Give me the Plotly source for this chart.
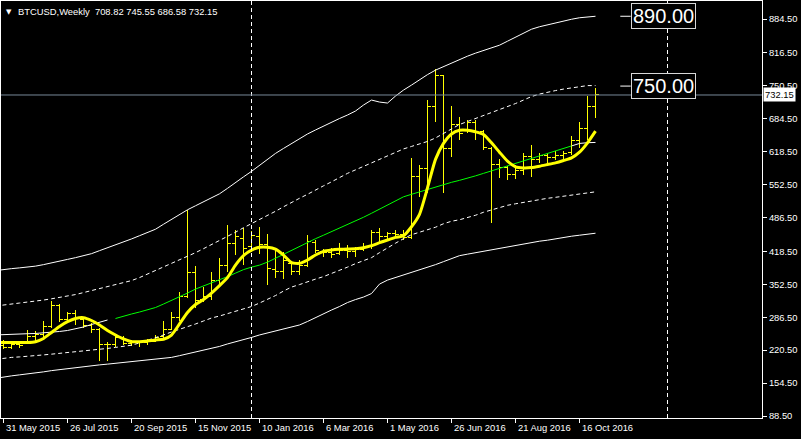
import pandas as pd
import plotly.graph_objects as go

# ---------------- data ----------------
# weekly bar dates: first entry (24 May 2015) is the bar just left of the view
weeks = pd.date_range("2015-05-24", "2016-10-30", freq="7D")

bar_open = [230, 226, 232, 237, 248, 251, 268, 311, 283, 294, 283, 270, 262, 231, 231,
            245, 234, 238, 235, 238, 247, 262, 286, 328, 376, 322, 328, 360, 391, 435,
            445, 428, 448, 432, 382, 378, 395, 378, 391, 436, 418, 417, 414, 421, 418,
            422, 429, 456, 448, 455, 452, 446, 568, 584, 709, 772, 625, 672, 660, 676,
            658, 625, 592, 586, 572, 580, 608, 602, 610, 606, 610, 616, 640, 665, 708.82]
bar_high = [240, 239, 236, 261, 258, 278, 319, 314, 298, 301, 285, 275, 264, 236, 251,
            248, 241, 239, 242, 251, 278, 298, 338, 502, 390, 348, 378, 405, 471, 461,
            465, 460, 468, 453, 423, 418, 398, 401, 451, 441, 423, 425, 435, 431, 428,
            435, 461, 465, 458, 462, 461, 605, 592, 722, 784, 772, 710, 688, 682, 683,
            662, 628, 603, 590, 592, 615, 632, 615, 615, 619, 619, 650, 677, 730, 745.55]
bar_low = [222, 223, 224, 236, 236, 244, 264, 277, 276, 271, 264, 254, 199, 199, 226,
           231, 228, 226, 231, 237, 241, 261, 279, 326, 305, 317, 322, 352, 378, 411,
           391, 418, 414, 352, 365, 364, 371, 371, 388, 415, 408, 405, 411, 405, 408,
           420, 424, 435, 441, 448, 441, 444, 528, 535, 679, 535, 608, 642, 656, 642,
           622, 475, 565, 562, 563, 571, 568, 596, 596, 602, 604, 611, 625, 642, 686.58]
bar_close = [226, 232, 229, 248, 251, 268, 310, 283, 294, 284, 270, 262, 231, 231, 246,
             234, 238, 235, 238, 246, 262, 286, 328, 376, 321, 328, 360, 391, 435, 448,
             425, 450, 432, 385, 378, 401, 378, 391, 438, 420, 417, 413, 421, 418, 422,
             428, 456, 448, 455, 452, 446, 568, 584, 709, 772, 625, 672, 655, 676, 656,
             626, 592, 587, 572, 580, 608, 602, 610, 606, 610, 615, 640, 665, 709, 732.15]

# smoothed yellow line (one value per week, starting 24 May 2015)
smooth_line = [235.5, 236, 236, 236, 236, 237.5, 244, 256, 268, 277.6, 284, 285.6, 280,
               271, 260, 251, 243, 237.5, 237.5, 238.9, 240.9, 242.3, 250.9, 273, 296,
               312, 322, 335, 350, 366, 391, 410, 421, 427, 427, 423, 411, 396, 394.6,
               401.3, 411.3, 418.6, 421.3, 422.6, 423.4, 424, 426, 430, 436, 441.4, 446.7,
               450, 468, 493, 546, 603, 635, 654, 661.6, 661.6, 658.3, 652.9, 636.2, 617.5,
               599.4, 588.1, 586, 586.7, 589.4, 592.7, 596.1, 600.8, 606.1, 617.5, 636.2,
               659.6]

# green moving average (weeks 6 Sep 2015 .. 11 Sep 2016)
green_ma = [284, 289, 293, 297, 301, 306, 313, 320, 327, 335, 343, 349, 355, 361, 368,
            375, 382, 387, 391, 397, 405, 413, 421, 429, 437, 444, 451, 458, 465, 472,
            479, 487, 495, 503, 511, 519, 528, 533, 538, 543, 548, 553, 557, 561, 565,
            570, 575, 580, 585, 590, 595, 600, 605, 610, 615, 620, 625, 630]

# white centre line, visible only where the green line is absent
mid_head = [251, 252, 252.5, 253, 253.5, 254, 255, 256.5, 258, 260, 263, 267, 272, 277, 281]
mid_tail = [630, 635, 636.5, 637]

upper_outer = [380, 382.5, 384, 385.5, 387, 389, 392, 395, 399, 402.5, 406, 409.5, 414,
               420, 425.5, 431, 437, 443.5, 450, 456, 463, 473, 483, 492, 502, 510, 518,
               526, 534, 545, 557, 568, 579, 591, 603, 615, 625, 635, 645, 654, 662, 670,
               677, 685, 692, 700, 712, 722, 718, 716, 730, 742, 752, 763, 773, 782, 789,
               797, 804, 810, 816, 821, 827, 832, 840, 848, 857, 864, 869, 873, 877, 881,
               884, 887, 889, 890]
upper_inner = [309, 311.5, 313, 315, 317, 318.5, 321, 323.5, 326, 328, 332, 336, 340,
               344.5, 348, 352, 356, 360, 366, 373, 380, 388, 395, 402, 409, 416, 424,
               432, 441, 449, 457, 466, 474, 482, 491, 499, 508, 517, 525, 533, 542, 550,
               558, 567, 575, 582, 589, 596, 603, 610, 617, 624, 629, 634, 639, 646, 655,
               664, 673, 679, 685, 690, 696, 702, 708, 715, 722, 729, 734, 738, 741, 744,
               746, 749, 751, 751]
lower_inner = [202, 204.5, 206, 207, 208, 209.5, 211, 212.5, 214, 215, 217, 218.5, 220,
               222, 224, 226, 228, 230.5, 235, 240, 246, 251, 257, 262, 268, 273, 279,
               285, 289, 294, 299, 303, 308, 315, 322, 330, 339, 347, 352, 358, 363, 368,
               374, 380, 387, 394, 400, 406, 416, 426, 435, 444, 452, 457, 462, 467, 474,
               479, 482, 486, 491, 497, 502, 507, 511, 514, 517, 520, 522, 525, 527, 529,
               532, 534, 536, 538]
lower_outer = [164, 167, 169, 171, 172.5, 174.5, 177, 179.5, 181.5, 184, 186, 187.5, 189,
               191, 192.5, 194, 196, 198, 199.5, 201, 202.5, 204, 206, 209.5, 213, 217,
               220.5, 224, 228, 233, 237, 241.5, 246, 251, 255, 260, 263.5, 267, 271, 278,
               286, 293, 301, 308, 316, 322, 327, 334, 353, 361, 366, 371, 376, 381, 387,
               392, 398, 404, 410, 413, 416, 419, 422, 425, 428, 430, 433, 436, 439, 441,
               444, 447, 449, 451, 453, 455]

y_tick_values = [88.5, 154.5, 220.5, 286.5, 352.5, 418.5, 486.5, 552.5, 618.5, 684.5,
                 750.5, 816.5, 884.5]
x_tick_labels = ["31 May 2015", "26 Jul 2015", "20 Sep 2015", "15 Nov 2015", "10 Jan 2016",
                 "6 Mar 2016", "1 May 2016", "26 Jun 2016", "21 Aug 2016", "16 Oct 2016"]
year_starts = ["2016-01-03", "2017-01-01"]
price_labels = [890.00, 750.00]
last_price = 732.15
title_text = "BTCUSD,Weekly\u00a0\u00a0708.82 745.55 686.58 732.15"

# ---------------- figure ----------------
bar_dates = weeks[1:]
wk = pd.Timedelta(weeks=1)
x_start = bar_dates[0] - (2.5 / 8) * wk
x_end = x_start + (761 / 8) * wk
tick_dates = list(bar_dates[0::8])

FONT = "Liberation Sans, Arial, sans-serif"
WHITE = "#ffffff"
DASH = "4px,3px"

fig = go.Figure()
for vals, dash in [(upper_outer, None), (upper_inner, DASH), (lower_inner, DASH), (lower_outer, None)]:
    fig.add_trace(go.Scatter(x=weeks, y=vals, mode="lines",
                             line=dict(color=WHITE, width=1, dash=dash), hoverinfo="skip"))
fig.add_trace(go.Scatter(x=weeks[:len(mid_head)], y=mid_head, mode="lines",
                         line=dict(color=WHITE, width=1), hoverinfo="skip"))
fig.add_trace(go.Scatter(x=weeks[-len(mid_tail):], y=mid_tail, mode="lines",
                         line=dict(color=WHITE, width=1), hoverinfo="skip"))
fig.add_trace(go.Scatter(x=weeks[15:15 + len(green_ma)], y=green_ma, mode="lines",
                         line=dict(color="#00ff00", width=1), hoverinfo="skip"))
fig.add_trace(go.Ohlc(x=bar_dates, open=bar_open, high=bar_high, low=bar_low, close=bar_close,
                      increasing=dict(line=dict(color="#ffff00", width=1)),
                      decreasing=dict(line=dict(color="#ffff00", width=1)),
                      tickwidth=0.38, hoverinfo="skip"))
fig.add_trace(go.Scatter(x=weeks, y=smooth_line, mode="lines",
                         line=dict(color="#ffff00", width=3, shape="spline", smoothing=0.6),
                         hoverinfo="skip"))

shapes = []
for d in year_starts:
    shapes.append(dict(type="line", xref="x", yref="paper", x0=d, x1=d, y0=0, y1=1,
                       line=dict(color=WHITE, width=1, dash=DASH)))
shapes.append(dict(type="line", xref="paper", yref="y", x0=0, x1=1, y0=last_price, y1=last_price,
                   line=dict(color="#778899", width=1)))
anchor_x = bar_dates[0] + 77.1 * wk
box_x = bar_dates[0] + 78.4 * wk
for p in price_labels:
    shapes.append(dict(type="line", xref="x", yref="y", x0=anchor_x, x1=box_x, y0=p, y1=p,
                       line=dict(color=WHITE, width=1)))

ann = []
for d, t in zip(tick_dates, x_tick_labels):
    ann.append(dict(x=d, xref="x", y=0, yref="paper", text=t, showarrow=False,
                    xanchor="left", yanchor="top", yshift=-2,
                    font=dict(family=FONT, size=9.4, color=WHITE)))
for p in price_labels:
    ann.append(dict(x=box_x, xref="x", y=p, yref="y", text=f"{p:.2f}", showarrow=False,
                    xanchor="left", yanchor="middle", bgcolor="#000000",
                    bordercolor="#d8d8d8", borderwidth=1, borderpad=1,
                    font=dict(family="Liberation Sans Narrow, Liberation Sans, Arial", size=20,
                              color=WHITE)))
ann.append(dict(x=1, xref="paper", y=last_price, yref="y", text=f"{last_price:.2f}",
                showarrow=False, xanchor="left", yanchor="middle", xshift=1,
                bgcolor=WHITE, borderpad=1,
                font=dict(family=FONT, size=9.4, color="#000000")))
ann.append(dict(x=0, xref="paper", y=1, yref="paper", text="\u25bc", showarrow=False,
                xanchor="left", yanchor="top", xshift=3, yshift=-5,
                font=dict(family="DejaVu Sans", size=7, color=WHITE)))
ann.append(dict(x=0, xref="paper", y=1, yref="paper", text=title_text, showarrow=False,
                xanchor="left", yanchor="top", xshift=15, yshift=-3,
                font=dict(family=FONT, size=9.4, color=WHITE)))

fig.update_layout(
    width=801, height=439,
    margin=dict(l=1, r=39, t=1, b=21),
    paper_bgcolor="#000000", plot_bgcolor="#000000",
    showlegend=False, hovermode=False,
    shapes=shapes, annotations=ann,
    xaxis=dict(type="date", range=[x_start, x_end], rangeslider=dict(visible=False),
               showgrid=False, zeroline=False, showline=True, linecolor=WHITE, linewidth=1,
               mirror=True, ticks="outside", ticklen=4, tickcolor=WHITE,
               tickvals=tick_dates, showticklabels=False),
    yaxis=dict(side="right", range=[84.5, 920.6], showgrid=False, zeroline=False,
               showline=True, linecolor=WHITE, linewidth=1, mirror=True,
               ticks="outside", ticklen=4, tickcolor=WHITE,
               tickvals=y_tick_values, ticktext=[f"{v:.2f}" for v in y_tick_values],
               tickfont=dict(family=FONT, size=9.4, color=WHITE)),
)

post = ("document.body.style.margin='0';document.body.style.overflow='hidden';"
        "document.querySelectorAll('g.ohlc path').forEach(function(p){"
        "p.style.shapeRendering='crispEdges';});")
fig.write_html("out.html", config={"displayModeBar": False}, post_script=post)
